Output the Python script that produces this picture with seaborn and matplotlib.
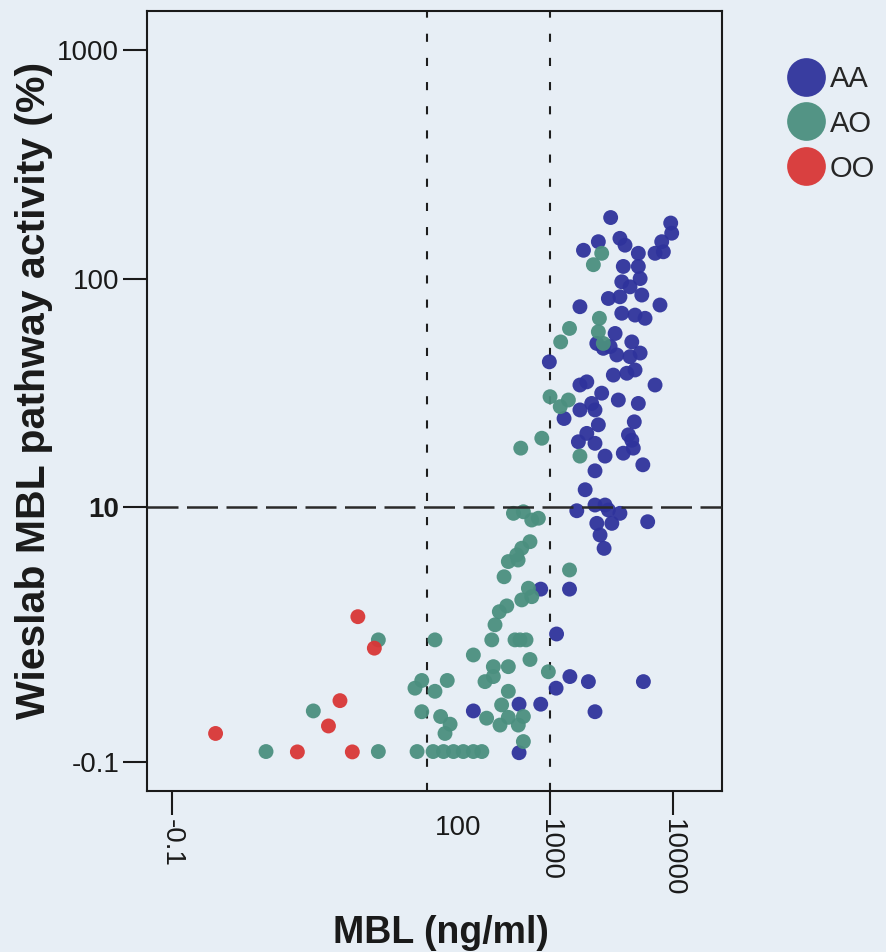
import matplotlib
matplotlib.use("Agg")
import matplotlib.pyplot as plt
import matplotlib.transforms as mtransforms
from matplotlib.ticker import NullLocator
import pandas as pd
import seaborn as sns

# ---------------- data ----------------
groups = ["AA", "AO", "OO"]
colors = ["#2f339c", "#4b8f7f", "#d93636"]

aa_mbl = [3110, 9570, 9750, 2470, 1870, 3700, 4070, 8090, 7140, 8340, 5220, 3940,
          5220, 3830, 5400, 4470, 5570, 2980, 3700, 7830, 1750, 3830, 4910, 5920,
          3380, 4620, 2710, 5400, 987, 2400, 3080, 3490, 4470, 3270, 4210, 4910,
          1750, 1990, 7140, 2630, 3590, 5220, 2180, 1750, 2320, 1300, 2470, 4840,
          1990, 4340, 1700, 2320, 4620, 4750, 3940, 2800, 5680, 2320, 1930, 1650,
          2320, 2800, 2980, 3700, 2400, 3180, 2550, 2750, 6220, 840, 1440, 1130,
          1450, 2050, 5740, 1120, 238, 560, 840, 2320, 560]
aa_act = [185, 175, 158, 145, 133, 150, 140, 145, 129, 131, 129, 113,
          113, 96.8, 100, 92, 84.7, 81.8, 83.2, 76.6, 75.3, 70.5, 69.2, 67,
          57.5, 52.8, 49.5, 47.2, 43.2, 52, 50.4, 46.3, 45.5, 37.8, 38.5, 39.8,
          34.2, 35.3, 34.2, 31.5, 29.4, 28.4, 28.4, 26.6, 26.6, 24.4, 22.9, 23.6,
          21, 20.7, 19.3, 19, 19.6, 18.1, 17.2, 16.7, 15.3, 14.4, 11.9, 9.63,
          10.2, 10.2, 9.7, 9.38, 8.48, 8.48, 7.54, 6.59, 8.62, 4.37, 4.37, 2.78,
          1.81, 1.72, 1.72, 1.61, 1.28, 1.37, 1.37, 1.27, 0.84]

ao_mbl = [2630, 2250, 2520, 1440, 1220, 2470, 2710,
          1000, 1210, 1410, 857, 1750, 578, 504, 607, 710, 804, 687, 589, 536,
          458, 423, 550, 1440,
          667, 710, 589, 445, 387, 357, 116, 336, 519, 570, 638, 687, 238, 346,
          458, 969, 346, 296, 146, 90.6, 116, 458, 404, 90.6, 129, 154, 140, 305,
          392, 458, 552, 607, 607, 112, 136, 164, 197, 238, 279, 83, 40.2, 4.91,
          40.2, 11.9, 79.8]
ao_act = [129, 115, 67, 60.5, 52.8, 58.5, 52,
          30.4, 27.5, 29.4, 20, 16.7, 18.1, 9.38, 9.53, 8.77, 8.93, 7.05, 6.6, 6.17,
          5.77, 4.95, 5.86, 5.3,
          4.41, 4.05, 3.92, 3.69, 3.48, 3.05, 2.62, 2.62, 2.62, 2.62, 2.62, 2.15, 2.25, 2.0,
          2.0, 1.9, 1.81, 1.72, 1.74, 1.74, 1.56, 1.56, 1.36, 1.27, 1.21, 1.12, 1.02, 1.19,
          1.11, 1.2, 1.11, 1.21, 0.94, 0.85, 0.85, 0.85, 0.85, 0.85, 0.85, 0.85, 0.85, 0.85,
          2.62, 1.28, 1.61]

oo_mbl = [27.4, 37.3, 19.6, 15.8, 1.91, 8.83, 24.7]
oo_act = [3.31, 2.41, 1.42, 1.10, 1.02, 0.847, 0.847]

x_tick_values = [0.845, 1000, 10000]
x_tick_labels = ["-0.1", "1000", "10000"]
y_tick_values = [0.766, 10, 100, 1000]
y_tick_labels = ["-0.1", "10", "100", "1000"]
x_extra_label = "100"
x_lines = [100, 1000]
y_line = 10

# ---------------- figure ----------------
bg = "#e7eef5"
sns.set_theme(style="white")
plt.rcParams["font.family"] = ["Liberation Sans", "DejaVu Sans"]

df = pd.concat([
    pd.DataFrame({"MBL": aa_mbl, "Activity": aa_act, "Genotype": "AA"}),
    pd.DataFrame({"MBL": ao_mbl, "Activity": ao_act, "Genotype": "AO"}),
    pd.DataFrame({"MBL": oo_mbl, "Activity": oo_act, "Genotype": "OO"}),
], ignore_index=True)

fig = plt.figure(figsize=(8.86, 9.52), dpi=100, facecolor=bg)
ax = fig.add_axes([0.1659, 0.1691, 0.6490, 0.8193])
ax.set_facecolor(bg)

sns.scatterplot(data=df, x="MBL", y="Activity", hue="Genotype", hue_order=groups,
                palette=colors, s=115, linewidth=0, alpha=0.95, ax=ax, zorder=3)
ax.set_xscale("log")
ax.set_yscale("log")
ax.set_xlim(0.529, 25000)
ax.set_ylim(0.571, 1483)

for xv in x_lines:
    ax.axvline(xv, color="#1e1e1e", lw=1.5, ls=(0, (3.9, 7.7)), zorder=2)
ax.axhline(y_line, color="#2a2a2a", lw=1.8, ls=(0, (12.4, 3.4)), zorder=4)

ax.xaxis.set_minor_locator(NullLocator())
ax.yaxis.set_minor_locator(NullLocator())
ax.set_xticks(x_tick_values)
ax.set_xticklabels(x_tick_labels, rotation=270, fontsize=20)
ax.set_yticks(y_tick_values)
ax.set_yticklabels(y_tick_labels, fontsize=20)
for lab in ax.get_yticklabels():
    if lab.get_text() == "10":
        lab.set_fontweight("bold")
ax.tick_params(direction="out", length=17, width=1.5, pad=3, colors="#1a1a1a",
               bottom=True, left=True)

for sp in ax.spines.values():
    sp.set_visible(True)
    sp.set_color("#1a1a1a")
    sp.set_linewidth(1.5)

trans = mtransforms.blended_transform_factory(ax.transData, ax.transAxes)
ax.text(179, -0.048, x_extra_label, transform=trans, ha="center", va="center",
        fontsize=20, color="#1a1a1a")

ax.set_xlabel("MBL (ng/ml)", fontsize=27, fontweight="bold", color="#1a1a1a")
ax.set_ylabel("Wieslab MBL pathway activity (%)", fontsize=29.5, fontweight="bold",
              color="#1a1a1a")
ax.xaxis.set_label_coords(0.511, -0.159)
ax.yaxis.set_label_coords(-0.163, 0.514)

handles, labels = ax.get_legend_handles_labels()
ax.get_legend().remove()
fig.legend(handles, labels, loc="upper left", bbox_to_anchor=(0.887, 0.932),
           frameon=False, markerscale=2.6, fontsize=21, handlelength=1.35,
           handletextpad=0.15, labelspacing=0.58, borderpad=0, borderaxespad=0)

fig.savefig("out.png", dpi=100, facecolor=bg)
